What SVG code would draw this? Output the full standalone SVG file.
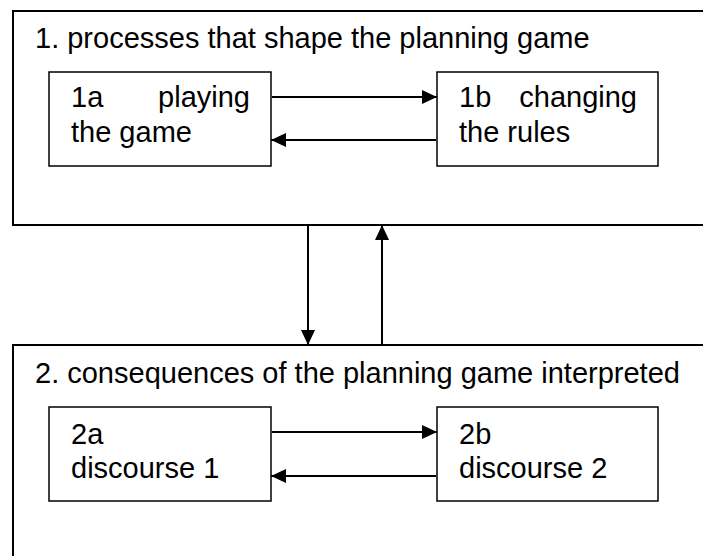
<svg xmlns="http://www.w3.org/2000/svg" width="703" height="556" viewBox="0 0 703 556">
<style>
.box{fill:#fff;stroke:#000;stroke-width:2}
.ibox{fill:#fff;stroke:#000;stroke-width:1.5}
text{font-family:"Liberation Sans",Arial,sans-serif;font-size:29px;fill:#000}
.end{text-anchor:end}
.c{stroke:#000;stroke-width:2;fill:none;marker-end:url(#ah)}
</style>
<defs>
<marker id="ah" viewBox="0 0 15 14" refX="15" refY="7" markerWidth="15" markerHeight="14" markerUnits="userSpaceOnUse" orient="auto">
<path d="M0,0 L15,7 L0,14 Z" fill="#000"/>
</marker>
</defs>
<g id="group1">
<rect class="box" x="13" y="11" width="710" height="214"/>
<text x="35" y="48">1. processes that shape the planning game</text>
</g>
<g id="group2">
<rect class="box" x="13" y="345" width="710" height="230"/>
<text x="35" y="383">2. consequences of the planning game interpreted</text>
</g>
<g id="node1a">
<rect class="ibox" x="49" y="72" width="222" height="94"/>
<text x="71" y="107">1a</text>
<text class="end" x="250" y="107">playing</text>
<text x="71" y="142">the game</text>
</g>
<g id="node1b">
<rect class="ibox" x="437" y="72" width="221" height="94"/>
<text x="459" y="107">1b</text>
<text class="end" x="637" y="107">changing</text>
<text x="459" y="142">the rules</text>
</g>
<g id="node2a">
<rect class="ibox" x="49" y="407" width="222" height="94"/>
<text x="71" y="444">2a</text>
<text x="71" y="478">discourse 1</text>
</g>
<g id="node2b">
<rect class="ibox" x="437" y="407" width="221" height="94"/>
<text x="459" y="444">2b</text>
<text x="459" y="478">discourse 2</text>
</g>
<g id="connectors">
<line class="c" x1="272" y1="97" x2="437" y2="97"/>
<line class="c" x1="436" y1="140" x2="271" y2="140"/>
<line class="c" x1="272" y1="432" x2="437" y2="432"/>
<line class="c" x1="436" y1="476" x2="271" y2="476"/>
<line class="c" x1="308" y1="226" x2="308" y2="345"/>
<line class="c" x1="382" y1="344" x2="382" y2="225"/>
</g>
</svg>
